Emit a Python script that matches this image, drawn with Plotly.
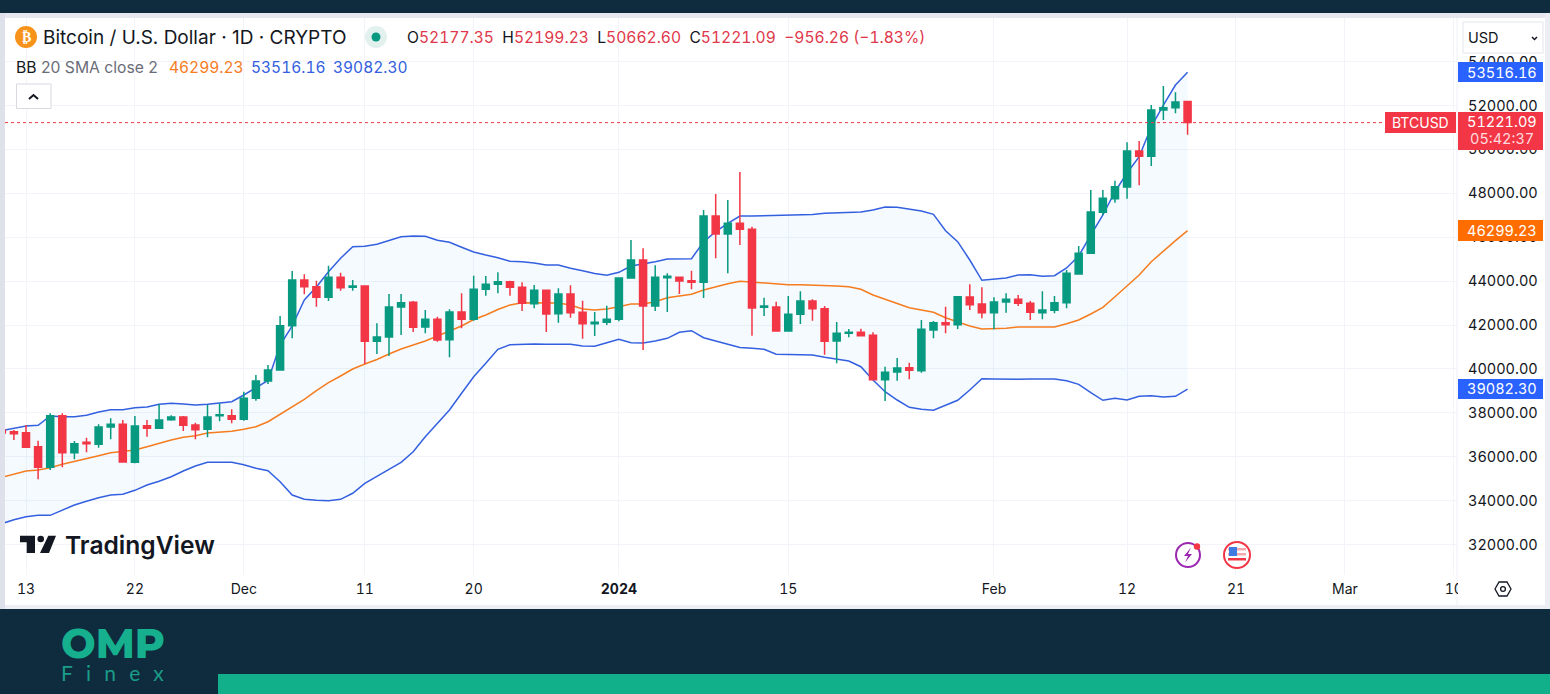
import pandas as pd
import plotly.graph_objects as go

dates = pd.date_range("2023-11-11", "2024-02-17", freq="D")

opens = [37216,37140,37095,36455,35516,37867,36182,36656,36570,37353,37476,35744,37412,37293,37686,37808,37444,37252,37867,37867,
         37704,38660,39449,39950,41968,44050,43745,43262,44173,43717,43777,41258,41453,42820,43034,41909,42260,41330,42592,42260,43626,43854,43973,43717,42970,43581,42515,43412,42578,42059,42123,
         42260,44141,44961,42866,44155,44173,44018,43945,46966,46146,46633,46360,42806,42820,41726,42488,43093,42743,41271,41621,41667,41531,39508,39859,40054,39918,41772,42105,42014,43276,42957,
         42560,43048,43171,42989,42560,42670,43016,44323,45267,47135,47754,48287,49927,49686,51795,51900,52177.35]
highs = [37261,37216,37444,36729,37977,37977,36715,36866,37476,37750,37672,37854,37672,38401,37885,37854,37550,38355,38433,38159,
         38961,39722,40178,42410,44460,44310,44018,44702,44383,44050,43777,42077,43412,43412,43093,42683,42378,42716,43444,44246,44232,44401,44018,43945,43822,43581,43672,43809,43107,42592,42879,
         44141,45873,45494,44720,44355,44173,44474,47239,47968,47695,48971,46479,43244,43062,43321,43535,43171,42866,42137,41818,41831,41667,40100,40496,40282,42228,42182,42834,43289,43855,43717,
         43262,43444,43366,43093,43535,43321,44506,45599,48151,48151,48574,50324,50383,52023,52889,52602,52199.23]
lows = [36988,36761,36396,34970,35394,35516,35881,36200,36410,36793,35758,35699,36911,37275,37640,37170,36793,36885,37613,37521,
        37640,38551,39312,39950,41394,43398,42834,43093,43563,43563,40223,40678,40588,41544,41681,41621,41239,40528,41850,42196,43335,43444,43335,42638,42761,41681,42104,42333,41376,41499,41999,
        42168,44141,40861,42638,42592,43412,43626,43230,45039,44355,45645,41512,42410,41726,41694,42045,42196,40647,40255,41439,41512,39508,38537,39462,39526,39827,41394,41621,41818,42683,42305,
        41804,42560,42866,42228,42260,42533,42761,44323,45267,47012,47572,47754,48365,49244,51340,51645,50662.60]
closes = [37079,37050,36428,35516,37867,36182,36592,36592,37353,37476,35758,37398,37293,37672,37808,37430,37230,37808,37913,37704,
          38660,39449,39950,41968,44050,43745,43262,44173,43699,43777,41258,41453,42820,43016,41895,42260,41317,42592,42260,43626,43854,43973,43717,42988,43581,42501,43412,42560,42059,42123,42260,
          44141,44961,42866,44173,44219,44004,43945,46966,46146,46633,46360,42774,42866,41726,42488,43093,42743,41258,41621,41667,41512,39508,39845,40041,39936,41804,42105,42014,43289,42925,42560,
          43048,43171,42989,42578,42683,43016,44355,45267,47148,47772,48301,49927,49686,51795,51900,52160,51221.09]
bb_upper = [37193,37307,37398,37430,37854,37822,37822,37886,38036,38141,38141,38232,38264,38387,38433,38401,38355,38387,38460,38506,
            38811,39152,39471,41089,41954,43139,43731,44428,45039,45567,45586,45676,45841,46023,46055,46041,45859,45768,45540,45326,45189,45066,44902,44884,44825,44734,44734,44583,44474,44346,44264,
            44401,44688,44779,44884,45007,45007,45021,45795,46251,46634,46966,46966,46980,47016,47025,47034,47039,47089,47116,47148,47148,47239,47376,47362,47285,47194,47043,46296,45795,44961,44036,
            44096,44141,44278,44291,44218,44246,44597,45144,46100,47012,48073,48925,49668,51034,52023,52934,53516.16]
bb_mid = [35061,35211,35348,35394,35499,35653,35772,35895,36045,36182,36228,36305,36455,36610,36761,36884,36957,37079,37125,37157,
          37248,37366,37594,37945,38278,38615,39007,39371,39676,39995,40223,40428,40679,40907,41089,41271,41499,41727,41954,42251,42456,42706,42911,43016,43002,43002,43002,42911,42729,42683,42729,
          42834,42957,42957,43062,43244,43321,43399,43595,43745,43882,43995,43950,43913,43854,43836,43831,43822,43809,43777,43745,43626,43366,43171,42970,42788,42683,42578,42333,42137,41954,41818,
          41818,41850,41909,41909,41895,41909,42059,42228,42501,42806,43289,43790,44278,44884,45385,45841,46299.23]
bb_lower = [32947,33129,33266,33329,33329,33571,33799,33968,34132,34254,34286,34468,34710,34879,35088,35348,35576,35744,35758,35744,
            35635,35471,35362,34861,34254,34058,34013,33995,34058,34334,34788,35088,35426,35744,36228,36911,37521,38127,38888,39645,40255,40893,41103,41134,41134,41121,41121,41121,41043,41030,41193,
            41348,41193,41180,41271,41394,41667,41740,41421,41271,41102,40975,40938,40893,40669,40665,40647,40633,40529,40451,40360,40100,39494,38961,38583,38250,38159,38114,38342,38569,39038,39553,
            39540,39526,39526,39540,39540,39540,39462,39298,38916,38569,38660,38583,38752,38779,38720,38752,39082.30]

price_ticks = list(range(32000, 56000, 2000))
date_ticks = ["2023-11-13", "2023-11-22", "2023-12-01", "2023-12-11", "2023-12-20", "2024-01-01",
              "2024-01-15", "2024-02-01", "2024-02-12", "2024-02-21", "2024-03-01", "2024-03-10"]
date_labels = ["13", "22", "Dec", "11", "20", "<b>2024</b>", "15", "Feb", "12", "21", "Mar", "10"]

FONT = "Inter"
INK = "#131722"
GREEN = "#089981"
RED = "#f23645"
BLUE = "#3460e0"
ORANGE = "#f57c1f"
GRID = "#f2f4f9"
W, H = 1550, 694
X_RANGE = ["2023-11-11 06:20", "2024-03-10 08:24"]
Y_RANGE = [30610, 55987]


def px(x):
    return x / W


def py(y):
    return 1 - y / H


def tnum(s):
    return f"<span style='font-variant-numeric:tabular-nums'>{s}</span>"


shapes = []
annots = []


def rect(x0, y0, x1, y1, fill, line=None, layer="below"):
    shapes.append(dict(type="rect", xref="paper", yref="paper", x0=px(x0), x1=px(x1), y0=py(y0), y1=py(y1),
                       fillcolor=fill, line=dict(color=line or fill, width=1 if line else 0), layer=layer))


def circle(cx, cy, r, fill="rgba(0,0,0,0)", line=None, lw=0, layer="above"):
    shapes.append(dict(type="circle", xref="paper", yref="paper", x0=px(cx - r), x1=px(cx + r), y0=py(cy + r), y1=py(cy - r),
                       fillcolor=fill, line=dict(color=line or fill, width=lw), layer=layer))


def poly(points, fill=None, line=None, lw=0, close=True, layer="above"):
    d = "M " + " L ".join(f"{px(x):.5f},{py(y):.5f}" for x, y in points) + (" Z" if close else "")
    shapes.append(dict(type="path", xref="paper", yref="paper", path=d, fillcolor=fill or "rgba(0,0,0,0)",
                       line=dict(color=line or "rgba(0,0,0,0)", width=lw), layer=layer))


def text(x, y, s, size=14, color=INK, anchor="left", weight=None, family=FONT):
    f = dict(family=family, size=size, color=color)
    if weight:
        f["weight"] = weight
    annots.append(dict(xref="paper", yref="paper", x=px(x), y=py(y), text=s, showarrow=False, xanchor=anchor,
                       yanchor="middle", font=f, borderpad=0, borderwidth=0))


# page frame
rect(0, 0, W, 13, "#0f2b3e")
rect(0, 13, W, 18, "#e6e8ef")
rect(0, 13, 5, 609, "#dfe1ea")
rect(1545, 13, W, 609, "#eceef3")
rect(5, 605, 1545, 609, "#eceef3")
rect(0, 609, W, H, "#0f2b3e", layer="above")
rect(218, 674, W, H, "#12b08a", layer="above")
poly([(1457, 18), (1457, 605)], line="#eef0f5", lw=1, close=False, layer="below")

# clip of the last date label at the axis edge
rect(1458, 578, 1468, 600, "#ffffff", layer="above")

# last price line
shapes.append(dict(type="line", xref="paper", yref="y", x0=px(5), x1=px(1385), y0=closes[-1], y1=closes[-1],
                   line=dict(color=RED, width=1, dash="dot"), layer="above"))

# header
circle(26, 37, 11, fill="#f7931a")
text(26, 37, "<b>₿</b>", size=14, color="#ffffff", anchor="center", family="DejaVu Sans")
text(43, 37, "Bitcoin / U.S. Dollar · 1D · CRYPTO", size=19, color=INK)
circle(376, 37, 11, fill="#e3f1ee")
circle(376, 37, 4.5, fill=GREEN)
ohlc = (f"<span style='color:{INK}'>O</span>52177.35  <span style='color:{INK}'>H</span>52199.23  "
        f"<span style='color:{INK}'>L</span>50662.60  <span style='color:{INK}'>C</span>51221.09  "
        "−956.26 (−1.83%)")
text(407, 37, tnum(ohlc), size=15.6, color="#e0384a")
text(16, 67, f"BB <span style='color:#6a6d78'>20 SMA close 2</span>", size=15.7, color=INK)
text(169, 67, tnum("46299.23"), size=15.5, color=ORANGE)
text(251, 67, tnum("53516.16"), size=15.5, color=BLUE)
text(333, 67, tnum("39082.30"), size=15.5, color=BLUE)

# collapse button
rect(16.5, 84, 51, 108.5, "#ffffff", line="#d8dae0", layer="above")
poly([(29, 99), (33.5, 95), (38, 99)], line=INK, lw=2, close=False)

# USD selector
rect(1463, 22, 1543, 53, "#ffffff", line="#e3e5ec", layer="above")
text(1468, 38, "USD", size=14.5, color=INK)
poly([(1532, 37), (1534.5, 39.5), (1537, 37)], line=INK, lw=1.5, close=False)

# price tags
for y0, y1, fill in [(62, 82, "#2962ff"), (220, 241, "#ff6d00"), (379, 399, "#2962ff"), (112, 150, RED)]:
    rect(1458, y0, 1543, y1, fill, layer="above")
rect(1385, 112, 1456, 133, RED, layer="above")
text(1502, 72, tnum("53516.16"), size=14.5, color="#ffffff", anchor="center")
text(1502, 122, tnum("51221.09"), size=14.5, color="#ffffff", anchor="center")
text(1502, 139, tnum("05:42:37"), size=14.5, color="#ffd9dd", anchor="center")
text(1420.5, 122.5, "BTCUSD", size=14, color="#ffffff", anchor="center")
text(1502, 230.5, tnum("46299.23"), size=14.5, color="#ffffff", anchor="center")
text(1502, 389, tnum("39082.30"), size=14.5, color="#ffffff", anchor="center")

# TradingView mark
poly([(20, 535.7), (35, 535.7), (35, 553), (26.7, 553), (26.7, 542.3), (20, 542.3)], fill=INK)
circle(40.7, 539, 3.3, fill=INK)
poly([(48.3, 535.7), (56, 535.7), (49, 553), (40, 553)], fill=INK)
text(65, 544.5, "TradingView", size=24.6, color=INK, weight=600)

# event icons
circle(1188, 555, 12, line="#9c27b0", lw=2)
poly([(1191, 547.5), (1184, 556), (1188, 556), (1185, 562.5), (1192, 554), (1188, 554)], fill="#9c27b0")
circle(1197, 546.5, 3.2, fill=RED)
circle(1237, 555, 13, fill="#ffffff", line=RED, lw=2)
rect(1228, 548, 1246, 550.5, "#f7a8ae", layer="above")
rect(1228, 553, 1246, 555.5, "#f7a8ae", layer="above")
rect(1228, 558, 1246, 560.5, RED, layer="above")
rect(1229, 547, 1237, 556, "#3f7be0", layer="above")

# settings icon
poly([(1495, 589), (1499, 582), (1507, 582), (1511, 589), (1507, 596), (1499, 596)], line=INK, lw=1.3)
circle(1503, 589, 2.4, line=INK, lw=1.3)

# brand footer
text(61, 643, "OMP", size=41, color="#16b08f", weight=800, family="Montserrat, Inter")
text(61, 672, "<span style='letter-spacing:13.2px'>Finex</span>", size=21, color="#1a9c88", family="Lato")

fig = go.Figure()
fig.add_trace(go.Scatter(x=dates, y=bb_upper, mode="lines", line=dict(color=BLUE, width=1.5), hoverinfo="skip"))
fig.add_trace(go.Scatter(x=dates, y=bb_lower, mode="lines", line=dict(color=BLUE, width=1.5), fill="tonexty",
                         fillcolor="rgba(33,150,243,0.05)", hoverinfo="skip"))
fig.add_trace(go.Scatter(x=dates, y=bb_mid, mode="lines", line=dict(color=ORANGE, width=1.5), hoverinfo="skip"))
fig.add_trace(go.Candlestick(x=dates, open=opens, high=highs, low=lows, close=closes, xaxis="x2", yaxis="y2",
                             increasing=dict(line=dict(color=GREEN, width=1.5), fillcolor=GREEN),
                             decreasing=dict(line=dict(color=RED, width=1.5), fillcolor=RED),
                             whiskerwidth=0))

domain_x = [px(5), px(1458)]
domain_y = [py(575), py(18)]
fig.update_layout(
    width=W, height=H, autosize=False, showlegend=False, hovermode=False,
    margin=dict(l=0, r=0, t=0, b=0, pad=0),
    paper_bgcolor="#ffffff", plot_bgcolor="rgba(0,0,0,0)",
    boxgap=0.17,
    xaxis=dict(type="date", domain=domain_x, range=X_RANGE, tickmode="array", tickvals=date_ticks,
               ticktext=[tnum(t) for t in date_labels], automargin=False,
               showgrid=True, gridcolor=GRID, gridwidth=1, zeroline=False, ticks="", showline=False,
               ticklabelstandoff=4, tickfont=dict(family=FONT, size=14, color=INK), rangeslider=dict(visible=False)),
    yaxis=dict(domain=domain_y, range=Y_RANGE, side="right", tickmode="array", tickvals=price_ticks,
               ticktext=[tnum(f"{v:.2f}") for v in price_ticks], automargin=False,
               showgrid=True, gridcolor=GRID, gridwidth=1, zeroline=False, ticks="", showline=False,
               ticklabelstandoff=9, tickfont=dict(family=FONT, size=14.5, color=INK)),
    xaxis2=dict(type="date", overlaying="x", anchor="y2", domain=domain_x, range=X_RANGE, visible=False,
                automargin=False, rangeslider=dict(visible=False)),
    yaxis2=dict(overlaying="y", anchor="x2", domain=domain_y, range=Y_RANGE, visible=False, automargin=False),
    shapes=shapes, annotations=annots,
)

page_fix = """
var box = 'margin:0;padding:0;width:1550px;height:694px;overflow:hidden;display:block;';
document.documentElement.style.cssText = box;
document.body.style.cssText = box;
"""
fig.write_html("out.html", default_width="1550px", default_height="694px",
               config=dict(displayModeBar=False, responsive=False), post_script=page_fix)
